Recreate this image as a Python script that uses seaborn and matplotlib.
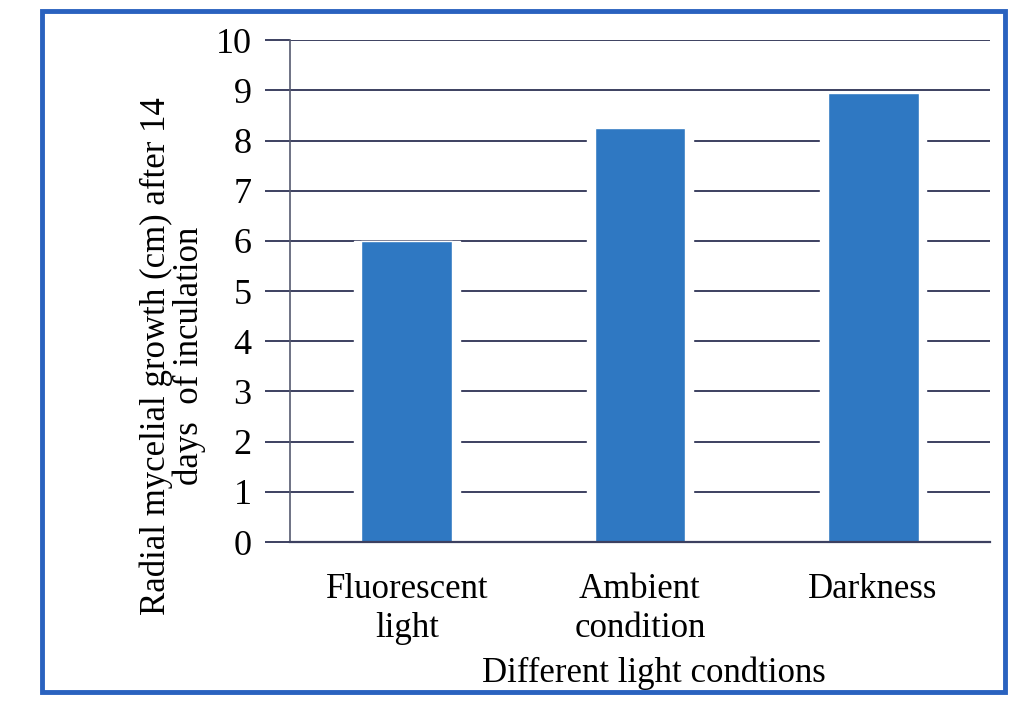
import matplotlib
matplotlib.use("Agg")
import matplotlib.pyplot as plt
import seaborn as sns
import pandas as pd
from matplotlib.patches import Rectangle

# Radial mycelial growth under different light conditions
conditions = ["Fluorescent\nlight", "Ambient\ncondition", "Darkness"]
growth_cm = [6.0, 8.25, 8.95]
y_ticks = [0, 1, 2, 3, 4, 5, 6, 7, 8, 9, 10]

df = pd.DataFrame({"condition": conditions, "growth": growth_cm})

sns.set_theme(style="white")
plt.rcParams["font.family"] = ["Liberation Serif", "DejaVu Serif"]
plt.rcParams["text.color"] = "black"
plt.rcParams["axes.labelcolor"] = "black"
plt.rcParams["xtick.color"] = "black"
plt.rcParams["ytick.color"] = "black"

bar_color = "#2f78c2"
grid_color = "#3c4060"

fig = plt.figure(figsize=(10.15, 7.04), dpi=100)
fig.patch.set_facecolor("white")
ax = fig.add_axes([0.286, 0.23, 0.689, 0.713])

# white halo behind each bar so the gridlines stop short of the bars
sns.barplot(data=df, x="condition", y="growth", color="white",
            width=0.455, saturation=1, ax=ax, zorder=2)
sns.barplot(data=df, x="condition", y="growth", color=bar_color,
            width=0.39, saturation=1, ax=ax, zorder=3)

ax.set_ylim(0, 10)
ax.set_yticks(y_ticks)
ax.set_yticklabels([str(v) for v in y_ticks], fontsize=26)
ax.yaxis.grid(True, color=grid_color, linewidth=1.4, zorder=0)
ax.set_axisbelow(True)
ax.tick_params(axis="y", left=True, direction="out", length=18, width=1.4,
               color=grid_color, labelcolor="black", pad=10)
ax.tick_params(axis="x", bottom=False, length=0, pad=22, labelsize=25,
               labelcolor="black")
for lbl in ax.get_xticklabels():
    lbl.set_linespacing(1.25)

for side in ["top", "right"]:
    ax.spines[side].set_visible(False)
ax.spines["left"].set_color("#555a70")
ax.spines["left"].set_linewidth(1.2)
ax.spines["bottom"].set_color(grid_color)
ax.spines["bottom"].set_linewidth(1.6)
ax.spines["bottom"].set_zorder(5)

ax.set_xlabel("Different light condtions", fontsize=25)
ax.xaxis.set_label_coords(0.52, -0.228)
ax.set_ylabel("Radial mycelial growth (cm) after 14\ndays  of inculation",
              fontsize=25, linespacing=0.95)
ax.yaxis.set_label_coords(-0.121, 0.37)

# blue frame around the whole chart
fig.patches.append(Rectangle((0.041, 0.017), 0.949, 0.968,
                             transform=fig.transFigure, fill=False,
                             edgecolor="#2a62bf", linewidth=3.5))

fig.savefig("out.png", dpi=100)
